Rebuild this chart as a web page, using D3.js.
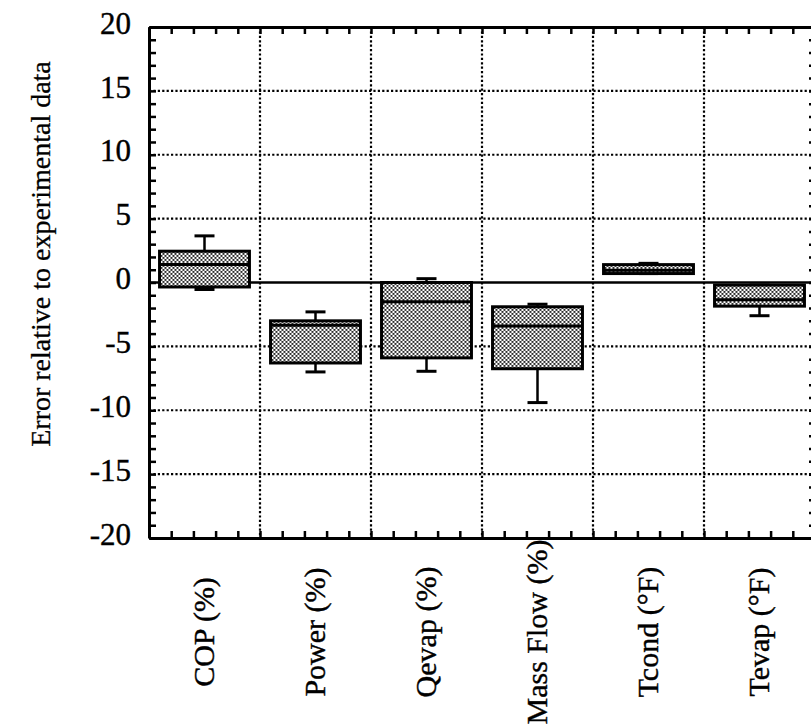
<!DOCTYPE html>
<html>
<head>
<meta charset="utf-8">
<script src="https://cdn.jsdelivr.net/npm/d3@7"></script>
<style>
  body { margin: 0; background: #fff; }
  svg { display: block; font-family: "Liberation Serif", "DejaVu Serif", serif; }
</style>
</head>
<body>
<div id="chart"></div>
<script>
// categories and box statistics
var categories = ["COP (%)", "Power (%)", "Qevap (%)", "Mass Flow (%)", "Tcond (°F)", "Tevap (°F)"];
var whiskerHigh = [3.65, -2.3, 0.3, -1.7, 1.5, -0.2];
var upperQuart = [2.45, -3.0, 0.0, -1.9, 1.4, -0.2];
var medians = [1.4, -3.35, -1.5, -3.4, 0.95, -1.35];
var lowerQuart = [-0.35, -6.3, -5.9, -6.75, 0.7, -1.85];
var whiskerLow = [-0.55, -7.0, -6.95, -9.4, 0.7, -2.6];
var yTicks = [20, 15, 10, 5, 0, -5, -10, -15, -20];

var margin = {top: 27, right: -4, bottom: 187, left: 149},
    width = 811 - margin.left - margin.right,
    height = 725 - margin.top - margin.bottom;

var boxes = categories.map(function(c, i) {
    return {
        name: c,
        hi: whiskerHigh[i],
        q3: upperQuart[i],
        med: medians[i],
        q1: lowerQuart[i],
        lo: whiskerLow[i]
    };
});

var x = d3.scaleBand().domain(categories).range([0, width]);
// linear helper for the minor ticks along top and bottom
var xs = d3.scaleLinear().domain([0, categories.length]).range([0, width]);
var y = d3.scaleLinear().domain([-20, 20]).range([height, 0]);

var svg = d3.select("#chart").append("svg")
    .attr("width", 811)
    .attr("height", 725);

// stipple fill used by the boxes
var pat = svg.append("defs").append("pattern")
    .attr("id", "stipple")
    .attr("width", 4)
    .attr("height", 4)
    .attr("patternUnits", "userSpaceOnUse");
pat.append("rect").attr("width", 4).attr("height", 4).attr("fill", "#fff");
pat.append("rect").attr("x", 0).attr("y", 0).attr("width", 1.9).attr("height", 1.9).attr("fill", "#222");
pat.append("rect").attr("x", 2).attr("y", 2).attr("width", 1.9).attr("height", 1.9).attr("fill", "#222");

var g = svg.append("g")
    .attr("transform", "translate(" + margin.left + "," + margin.top + ")");

// dotted grid
g.selectAll(".hgrid")
    .data(yTicks.filter(function(d) { return d !== 0 && Math.abs(d) !== 20; }))
    .enter().append("line")
    .attr("x1", 0).attr("x2", width)
    .attr("y1", y).attr("y2", y)
    .attr("stroke", "#000")
    .attr("stroke-width", 2.2)
    .attr("stroke-dasharray", "2.2,2.2");

g.selectAll(".vgrid")
    .data(categories.slice(1))
    .enter().append("line")
    .attr("x1", function(d) { return x(d); })
    .attr("x2", function(d) { return x(d); })
    .attr("y1", 0).attr("y2", height)
    .attr("stroke", "#000")
    .attr("stroke-width", 2.2)
    .attr("stroke-dasharray", "2.2,2.2");

// zero line
g.append("line")
    .attr("x1", 0).attr("x2", width)
    .attr("y1", y(0)).attr("y2", y(0))
    .attr("stroke", "#000")
    .attr("stroke-width", 2.5);

// frame with inward ticks
var minorY = d3.range(-20, 21, 1);
var minorX = d3.range(0, categories.length * 5 + 1).map(function(i) { return i / 5; });

function styleAxis(sel) {
    sel.select(".domain").attr("stroke-width", 3);
    sel.selectAll(".tick line").attr("stroke-width", 2.5);
}

g.append("g")
    .call(d3.axisLeft(y).tickValues(minorY).tickSize(-7).tickSizeOuter(0).tickFormat(""))
    .call(styleAxis);
g.append("g")
    .attr("transform", "translate(" + width + ",0)")
    .call(d3.axisRight(y).tickValues(minorY).tickSize(-6).tickSizeOuter(0).tickFormat(""))
    .call(styleAxis);
g.append("g")
    .call(d3.axisTop(xs).tickValues(minorX).tickSize(-7).tickSizeOuter(0).tickFormat(""))
    .call(styleAxis);
g.append("g")
    .attr("transform", "translate(0," + height + ")")
    .call(d3.axisBottom(xs).tickValues(minorX).tickSize(-7).tickSizeOuter(0).tickFormat(""))
    .call(styleAxis);

// y tick labels
var yLab = g.append("g")
    .call(d3.axisLeft(y).tickValues(yTicks).tickSize(0).tickPadding(18).tickFormat(String));
yLab.select(".domain").remove();
yLab.selectAll("text")
    .attr("font-family", "Liberation Serif")
    .attr("font-size", 31)
    .attr("fill", "#000")
    .attr("stroke", "#000")
    .attr("stroke-width", 0.4)
    .attr("dy", "0.2em");

// category labels, rotated
var xLab = g.append("g")
    .attr("transform", "translate(0," + height + ")")
    .call(d3.axisBottom(x).tickSize(0).tickFormat(function(d) { return d; }));
xLab.select(".domain").remove();
xLab.selectAll("text")
    .attr("font-family", "Liberation Serif")
    .attr("font-size", 30)
    .attr("fill", "#000")
    .attr("stroke", "#000")
    .attr("stroke-width", 0.4)
    .attr("text-anchor", "middle")
    .attr("transform", "translate(0,94) rotate(-90)")
    .attr("x", 0)
    .attr("y", 0)
    .attr("dy", "0.33em");

// y axis title
svg.append("text")
    .attr("transform", "translate(41,254) rotate(-90)")
    .attr("text-anchor", "middle")
    .attr("dy", "0.33em")
    .attr("font-size", 28)
    .attr("fill", "#000")
    .attr("stroke", "#000")
    .attr("stroke-width", 0.3)
    .text("Error relative to experimental data");

// boxes
var boxW = x.bandwidth() * 0.81,
    capW = 20;

var bx = g.selectAll(".box")
    .data(boxes)
    .enter().append("g")
    .attr("transform", function(d) { return "translate(" + (x(d.name) + x.bandwidth() / 2) + ",0)"; });

bx.append("line")
    .attr("x1", 0).attr("x2", 0)
    .attr("y1", function(d) { return y(d.hi); })
    .attr("y2", function(d) { return y(d.lo); })
    .attr("stroke", "#000")
    .attr("stroke-width", 2.5);

bx.selectAll(".cap")
    .data(function(d) { return [d.hi, d.lo]; })
    .enter().append("line")
    .attr("x1", -capW / 2).attr("x2", capW / 2)
    .attr("y1", y).attr("y2", y)
    .attr("stroke", "#000")
    .attr("stroke-width", 3);

bx.append("rect")
    .attr("x", -boxW / 2)
    .attr("width", boxW)
    .attr("y", function(d) { return y(d.q3); })
    .attr("height", function(d) { return y(d.q1) - y(d.q3); })
    .attr("fill", "url(#stipple)")
    .attr("stroke", "#000")
    .attr("stroke-width", 3);

bx.append("line")
    .attr("x1", -boxW / 2).attr("x2", boxW / 2)
    .attr("y1", function(d) { return y(d.med); })
    .attr("y2", function(d) { return y(d.med); })
    .attr("stroke", "#000")
    .attr("stroke-width", 3);
</script>
</body>
</html>
